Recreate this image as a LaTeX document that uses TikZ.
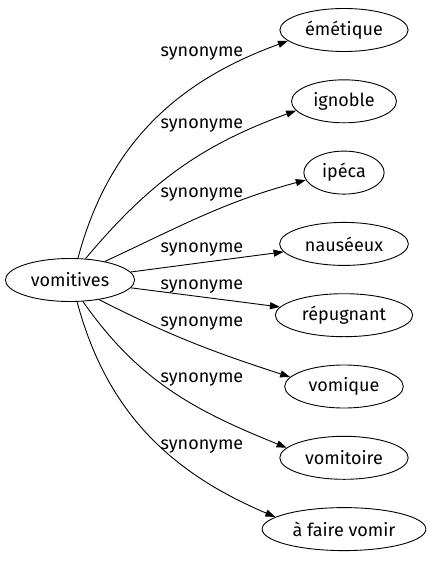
\documentclass[tikz,border=0pt]{standalone}
\usepackage{fontspec}
\setmainfont{Fira Sans}
\usepackage{tikz}
\usetikzlibrary{shapes.geometric,arrows.meta,positioning}

\tikzset{
  word/.style={ellipse, draw, line width=0.9pt, inner xsep=6.5pt, inner ysep=0pt,
    minimum height=43pt, font=\fontsize{18}{20}\selectfont},
  rel/.style={font=\fontsize{18}{20}\selectfont, inner sep=0pt}
}

\begin{document}
\begin{tikzpicture}[x=1pt, y=-1pt, node distance=71.3pt, on grid]
   \useasboundingbox (0,0) rectangle (432,563);
   \node[word] (w_0) at (70,280) {vomitives};
   \node[word] (w_1) at (344,30) {émétique};
   \node[word] (w_2) [below=of w_1] {ignoble};
   \node[word] (w_3) [below=of w_2] {ipéca};
   \node[word] (w_4) [below=of w_3] {nauséeux};
   \node[word] (w_5) [below=of w_4] {répugnant};
   \node[word] (w_6) [below=of w_5] {vomique};
   \node[word] (w_7) [below=of w_6] {vomitoire};
   \node[word] (w_8) [below=of w_7] {à faire vomir};

   \node[rel] (l_1) at (202,54) {synonyme};
   \node[rel] (l_2) at (202,126) {synonyme};
   \node[rel] (l_3) at (202,195) {synonyme};
   \node[rel] (l_4) at (202,250) {synonyme};
   \node[rel] (l_5) at (202,287) {synonyme};
   \node[rel] (l_6) at (202,324) {synonyme};
   \node[rel] (l_7) at (202,380) {synonyme};
   \node[rel] (l_8) at (202,447) {synonyme};

    \path[-{Triangle[length=10pt,width=7pt]}, line width=0.9pt]
    (w_0.70) edge [out=75, in=200] (w_1.191)
    (w_0.54) edge [out=50, in=200] (w_2.191)
    (w_0.28) edge [out=25, in=195] (w_3.191)
    (w_0) edge (w_4)
          edge (w_5)
    (w_0.-34) edge [out=-27, in=162] (w_6.170)
    (w_0.-59) edge [out=-55, in=158] (w_7.170)
    (w_0.-72) edge [out=-75, in=157] (w_8.170);
\end{tikzpicture}
\end{document}
